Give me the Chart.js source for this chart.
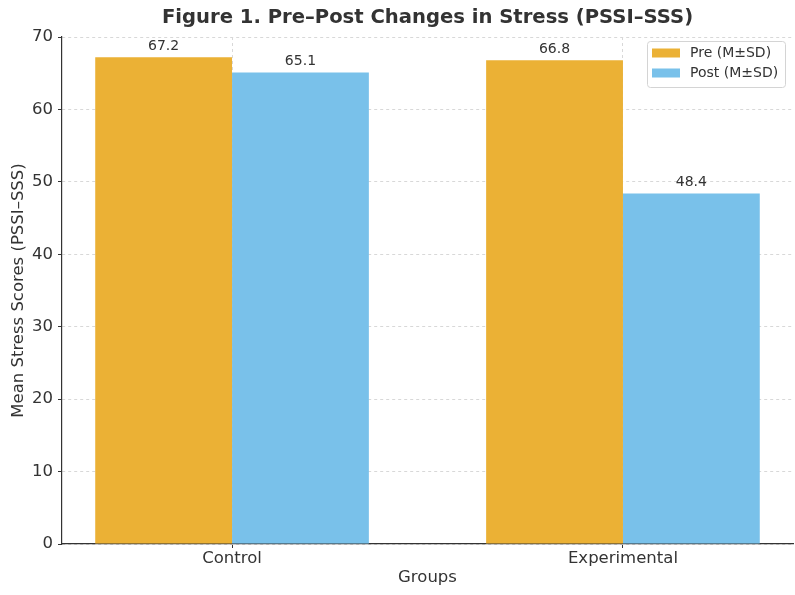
<!DOCTYPE html>
<html>
<head>
<meta charset="utf-8">
<script src="https://cdn.jsdelivr.net/npm/chart.js@4"></script>
<style>
  html, body { margin: 0; padding: 0; background: #fff; }
  #wrap { width: 795px; height: 595px; }
</style>
</head>
<body>
<div id="wrap"><canvas id="stressChart" width="795" height="595"></canvas></div>
<script>
const groups = ['Control', 'Experimental'];
const preMeans = [67.2, 66.8];
const postMeans = [65.1, 48.4];
const seriesLabels = ['Pre (M\u00b1SD)', 'Post (M\u00b1SD)'];
const yTicks = [0, 10, 20, 30, 40, 50, 60, 70];

const FONT = "'DejaVu Sans', sans-serif";
const TEXT = '#333';
const PRE_COLOR = '#EBB135';
const POST_COLOR = '#79C1EA';

// ---- value labels above each bar ----
const barValues = {
  id: 'barValues',
  afterDatasetsDraw(chart) {
    const ctx = chart.ctx;
    ctx.save();
    ctx.font = '14px ' + FONT;
    ctx.fillStyle = TEXT;
    ctx.textAlign = 'center';
    ctx.textBaseline = 'bottom';
    chart.data.datasets.forEach((ds, i) => {
      chart.getDatasetMeta(i).data.forEach((bar, j) => {
        ctx.fillText(ds.data[j].y.toFixed(1), bar.x, bar.y - 4);
      });
    });
    ctx.restore();
  }
};

// ---- title centred over the plot ----
const plotTitle = {
  id: 'plotTitle',
  afterDraw(chart) {
    const { ctx, chartArea } = chart;
    ctx.save();
    ctx.font = 'bold 19.6px ' + FONT;
    ctx.fillStyle = TEXT;
    ctx.textAlign = 'center';
    ctx.textBaseline = 'middle';
    ctx.fillText('Figure 1. Pre\u2013Post Changes in Stress (PSSI\u2013SSS)', (chartArea.left + chartArea.right) / 2, 18);
    ctx.restore();
  }
};

// ---- boxed legend in the upper right corner ----
const boxLegend = {
  id: 'boxLegend',
  afterDraw(chart) {
    const { ctx, chartArea } = chart;
    const x = chartArea.right - 146, y = chartArea.top + 4, w = 138, h = 46;
    ctx.save();
    ctx.beginPath();
    ctx.roundRect(x + 0.5, y + 0.5, w, h, 3);
    ctx.fillStyle = 'rgba(255,255,255,0.85)';
    ctx.fill();
    ctx.strokeStyle = '#d4d4d4';
    ctx.lineWidth = 1;
    ctx.stroke();
    ctx.font = '14px ' + FONT;
    ctx.textBaseline = 'middle';
    chart.data.datasets.forEach((ds, i) => {
      const cy = y + 12 + i * 20;
      ctx.fillStyle = ds.backgroundColor;
      ctx.fillRect(x + 5, cy - 4.5, 28, 9);
      ctx.fillStyle = TEXT;
      ctx.fillText(ds.label, x + 43, cy);
    });
    ctx.restore();
  }
};

new Chart(document.getElementById('stressChart'), {
  type: 'bar',
  data: {
    datasets: [
      { label: seriesLabels[0], data: groups.map((g, i) => ({ x: i, y: preMeans[i] })), backgroundColor: PRE_COLOR },
      { label: seriesLabels[1], data: groups.map((g, i) => ({ x: i, y: postMeans[i] })), backgroundColor: POST_COLOR }
    ]
  },
  options: {
    responsive: false,
    animation: false,
    devicePixelRatio: 1,
    categoryPercentage: 0.7,
    barPercentage: 1.0,
    layout: { padding: { top: 37, right: 2, bottom: 0, left: 0 } },
    plugins: {
      legend: { display: false },
      tooltip: { enabled: false }
    },
    scales: {
      x: {
        type: 'linear',
        min: -0.435,
        max: 1.435,
        offset: false,
        afterBuildTicks: s => { s.ticks = groups.map((g, i) => ({ value: i })); },
        afterFit: s => { s.height = 51; },
        ticks: {
          callback: v => groups[v],
          color: TEXT,
          font: { family: FONT, size: 16.5 },
          padding: 1,
          maxRotation: 0
        },
        grid: {
          offset: false,
          color: '#d8d8d8',
          tickColor: '#333',
          tickLength: 4,
          tickBorderDash: []
        },
        border: { color: '#333', width: 1.2, dash: [3, 3] },
        title: {
          display: true,
          text: 'Groups',
          color: TEXT,
          font: { family: FONT, size: 16.5 },
          padding: { top: 0, bottom: 7 }
        }
      },
      y: {
        min: 0,
        max: 70,
        afterBuildTicks: s => { s.ticks = yTicks.map(v => ({ value: v })); },
        afterFit: s => { s.width = 62; },
        ticks: {
          color: TEXT,
          font: { family: FONT, size: 16.5 },
          padding: 5
        },
        grid: {
          color: '#d8d8d8',
          tickColor: '#333',
          tickLength: 4,
          tickBorderDash: []
        },
        border: { color: '#333', width: 1.2, dash: [3, 3] },
        title: {
          display: true,
          text: 'Mean Stress Scores (PSSI\u2013SSS)',
          color: TEXT,
          font: { family: FONT, size: 16.5 },
          padding: { top: 8.5, bottom: 0 }
        }
      }
    }
  },
  plugins: [barValues, plotTitle, boxLegend]
});
</script>
</body>
</html>
